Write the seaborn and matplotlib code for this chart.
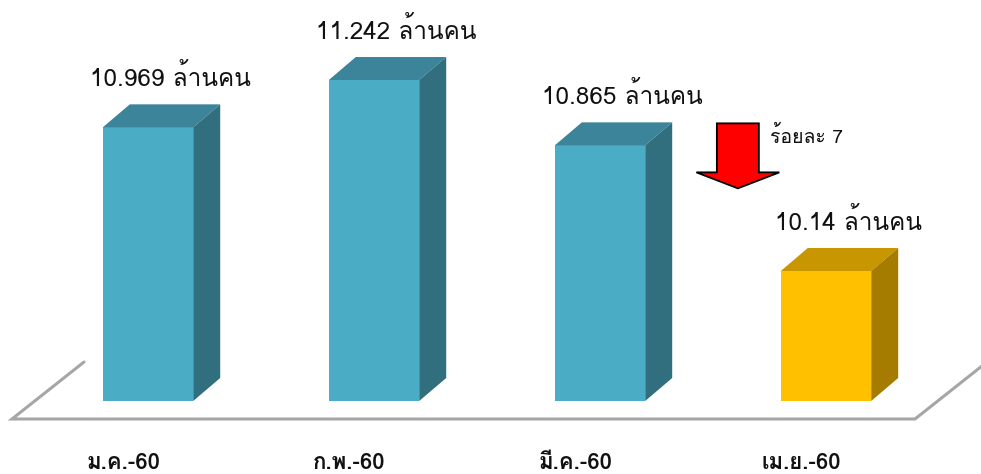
import numpy as np
import matplotlib
matplotlib.use("Agg")
import matplotlib.pyplot as plt
import seaborn as sns
from matplotlib import font_manager
from matplotlib.ft2font import FT2Font
from matplotlib.patches import Polygon

# -- data ------------------------------------------
months = ["ม.ค.-60", "ก.พ.-60", "มี.ค.-60", "เม.ย.-60"]
values = [10.969, 11.242, 10.865, 10.14]
unit = "ล้านคน"
change_label = "ร้อยละ 7"

front_cols = ["#4BACC6", "#4BACC6", "#4BACC6", "#FFC000"]
top_cols = ["#3B8499", "#3B8499", "#3B8499", "#C79600"]
side_cols = ["#316F7F", "#316F7F", "#316F7F", "#A67C00"]


# -- pick a font that has Thai glyphs --------------
def thai_font():
    for f in font_manager.fontManager.ttflist:
        try:
            if 0x0E01 in FT2Font(f.fname).get_charmap():
                return f.name
        except Exception:
            pass
    return "DejaVu Sans"


sns.set_style("white")
tf = thai_font()
plt.rcParams["font.family"] = [tf, "DejaVu Sans"]

W, H = 981, 474
fig = plt.figure(figsize=(W / 100, H / 100), dpi=100)
base_px = 401  # bar bottom, pixels from top
ax = fig.add_axes([0, (H - base_px) / H, 1, base_px / H])

sns.barplot(x=months, y=values, hue=months, palette=front_cols,
            saturation=1, width=0.4, legend=False, linewidth=0,
            edgecolor="none", ax=ax)

# scale: 226 px per category, 173.3 px per 1 million
ax.set_xlim(-148 / 226, (W - 148) / 226)
ymin = 10.14 - 130 / 173.3
ax.set_ylim(ymin, ymin + base_px / 173.3)
ax.axis("off")

inv = ax.transData.inverted()
def px2data(dx, dy):
    o = inv.transform((0, 0))
    p = inv.transform((dx, dy))
    return p - o

ddx, ddy = px2data(27, 23)

# -- 3d faces --------------------------------------
for i, bar in enumerate(ax.patches):
    x0 = bar.get_x()
    x1 = x0 + bar.get_width()
    y1 = bar.get_height()
    y0 = ymin
    top = [(x0, y1), (x1, y1), (x1 + ddx, y1 + ddy), (x0 + ddx, y1 + ddy)]
    side = [(x1, y0), (x1 + ddx, y0 + ddy), (x1 + ddx, y1 + ddy), (x1, y1)]
    ax.add_patch(Polygon(top, closed=True, fc=top_cols[i], ec="none", clip_on=False))
    ax.add_patch(Polygon(side, closed=True, fc=side_cols[i], ec="none", clip_on=False))
    ax.annotate(f"{values[i]:g} {unit}", xy=(x0 + bar.get_width() / 2, y1),
                xytext=(16, 29.5), textcoords="offset points",
                ha="center", va="baseline", fontsize=17.5, color="#111111",
                annotation_clip=False)
    ax.annotate(months[i], xy=(x0 + bar.get_width() / 2, 0),
                xycoords=("data", "axes fraction"),
                xytext=(-18, -49), textcoords="offset points",
                ha="center", va="baseline", fontsize=16, fontweight="bold",
                color="#111111", annotation_clip=False)

# -- floor outline ---------------------------------
fx0, fy0 = inv.transform((12, H - 419))
fx1, _ = inv.transform((915, H - 419))
sdx, sdy = px2data(72, 57)
ax.plot([fx0 + sdx, fx0, fx1, fx1 + sdx], [fy0 + sdy, fy0, fy0, fy0 + sdy],
        color="#A6A6A6", lw=2.2, clip_on=False, solid_joinstyle="miter")

# -- decrease arrow --------------------------------
ax_x = 2.61
shaft = px2data(42, 49)
head = px2data(83, 16)
y_top = values[2] + px2data(0, 22)[1]
arrow = [(ax_x - shaft[0] / 2, y_top), (ax_x + shaft[0] / 2, y_top),
         (ax_x + shaft[0] / 2, y_top - shaft[1]), (ax_x + head[0] / 2, y_top - shaft[1]),
         (ax_x, y_top - shaft[1] - head[1]), (ax_x - head[0] / 2, y_top - shaft[1]),
         (ax_x - shaft[0] / 2, y_top - shaft[1])]
ax.add_patch(Polygon(arrow, closed=True, fc="#FF0000", ec="black", lw=1.3, clip_on=False))
ax.annotate(change_label, xy=(ax_x + shaft[0] / 2, y_top), xytext=(8, -14.5),
            textcoords="offset points", ha="left", va="baseline",
            fontsize=14, color="#111111", annotation_clip=False)

fig.savefig("out.png", dpi=100)
